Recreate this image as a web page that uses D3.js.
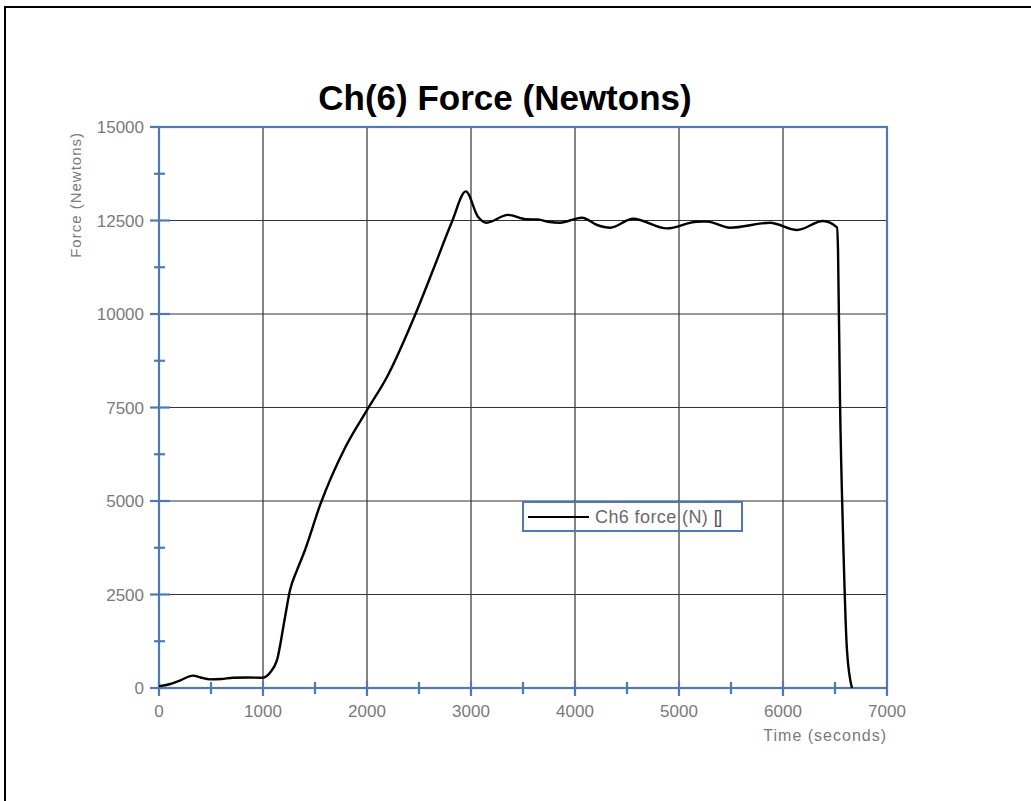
<!DOCTYPE html>
<html>
<head>
<meta charset="utf-8">
<script src="https://cdn.jsdelivr.net/npm/d3@7"></script>
<style>
  html, body { margin: 0; padding: 0; background: #fff; overflow: hidden; }
  svg { display: block; font-family: Arial, "Liberation Sans", sans-serif; }
</style>
</head>
<body>
<script>
// ---- data ----
const timeSeconds = [0, 100, 200, 327, 400, 490, 600, 712, 850, 990, 1067, 1135, 1212, 1260, 1327, 1404, 1550, 1788, 2000, 2192, 2442, 2635, 2817, 2950, 3067, 3150, 3356, 3538, 3635, 3740, 3856, 4067, 4212, 4337, 4558, 4885, 5173, 5270, 5490, 5875, 6135, 6385, 6519, 6529, 6548, 6577, 6615, 6663];
const forceNewtons = [50, 100, 200, 330, 280, 230, 240, 275, 280, 275, 410, 750, 1900, 2620, 3150, 3690, 4900, 6417, 7430, 8315, 9840, 11176, 12468, 13280, 12602, 12440, 12650, 12532, 12530, 12468, 12440, 12575, 12380, 12307, 12545, 12290, 12468, 12470, 12307, 12440, 12245, 12487, 12318, 11711, 7700, 4144, 1016, 0];
const xTicks = [0, 1000, 2000, 3000, 4000, 5000, 6000, 7000];
const xMinorTicks = [500, 1500, 2500, 3500, 4500, 5500, 6500];
const yTicks = [0, 2500, 5000, 7500, 10000, 12500, 15000];
const yMinorTicks = [1250, 3750, 6250, 8750, 11250, 13750];
const titleText = "Ch(6) Force (Newtons)";
const xTitle = "Time (seconds)";
const yTitle = "Force (Newtons)";
const legendLabel = "Ch6 force (N) ";
const legendTail = "[]";

// ---- layout ----
const W = 1031, H = 801;
const L = 159, R = 887, T = 127, B = 688;
const axisBlue = "#4f79b5";
const gridCol = "#333";
const labelCol = "#7a7a7a";

const svg = d3.select("body").append("svg").attr("width", W).attr("height", H);
svg.append("rect").attr("width", W).attr("height", H).attr("fill", "#fff");

// outer frame (only left/top visible in picture)
svg.append("rect").attr("x", 5).attr("y", 7).attr("width", 1200).attr("height", 1000)
  .attr("fill", "none").attr("stroke", "#000").attr("stroke-width", 2);

const x = d3.scaleLinear().domain([0, 7000]).range([L, R]);
const y = d3.scaleLinear().domain([0, 15000]).range([B, T]);

// grid
const grid = svg.append("g");
grid.selectAll(".vg").data(xTicks.slice(1, -1)).join("line")
  .attr("x1", d => x(d)).attr("x2", d => x(d)).attr("y1", T).attr("y2", B)
  .attr("stroke", gridCol).attr("stroke-width", 1.2);
grid.selectAll(".hg").data(yTicks.slice(1, -1)).join("line")
  .attr("x1", L).attr("x2", R).attr("y1", d => y(d)).attr("y2", d => y(d))
  .attr("stroke", gridCol).attr("stroke-width", 1.2);

// frame (blue)
const frame = svg.append("g").attr("stroke", axisBlue).attr("stroke-width", 2.2).attr("fill", "none");
frame.append("rect").attr("x", L).attr("y", T).attr("width", R - L).attr("height", B - T);

// y axis ticks
frame.selectAll(".ymaj").data(yTicks).join("line")
  .attr("x1", L - 9).attr("x2", d => (d === 15000 ? L : L + 11))
  .attr("y1", d => y(d)).attr("y2", d => y(d));
frame.selectAll(".ymin").data(yMinorTicks).join("line")
  .attr("x1", L - 5).attr("x2", L + 6)
  .attr("y1", d => y(d)).attr("y2", d => y(d));
// x axis ticks
frame.selectAll(".xmaj").data(xTicks).join("line")
  .attr("x1", d => x(d)).attr("x2", d => x(d))
  .attr("y1", d => (d === 7000 ? B : B - 7)).attr("y2", B + 8);
frame.selectAll(".xmin").data(xMinorTicks).join("line")
  .attr("x1", d => x(d)).attr("x2", d => x(d))
  .attr("y1", B - 6).attr("y2", B + 6);

// tick labels
svg.append("g").selectAll("text").data(yTicks).join("text")
  .attr("x", L - 15).attr("y", d => y(d)).attr("dy", "0.36em")
  .attr("text-anchor", "end").attr("font-size", 17).attr("fill", labelCol)
  .text(d => d);
svg.append("g").selectAll("text").data(xTicks).join("text")
  .attr("x", d => x(d)).attr("y", B + 29)
  .attr("text-anchor", "middle").attr("font-size", 17).attr("fill", labelCol)
  .text(d => d);

// axis titles
svg.append("text").attr("x", R).attr("y", B + 53).attr("text-anchor", "end")
  .attr("font-size", 16).attr("letter-spacing", 1).attr("fill", labelCol).text(xTitle);
svg.append("text").attr("transform", `translate(81,${T + 5}) rotate(-90)`)
  .attr("text-anchor", "end").attr("font-size", 15).attr("letter-spacing", 1)
  .attr("fill", labelCol).text(yTitle);

// title
svg.append("text").attr("x", 505).attr("y", 110).attr("text-anchor", "middle")
  .attr("font-size", 35).attr("font-weight", "bold").attr("fill", "#000").text(titleText);

// data line
const line = d3.line().x((d, i) => x(timeSeconds[i])).y((d, i) => y(forceNewtons[i]))
  .curve(d3.curveMonotoneX);
svg.append("path").datum(forceNewtons).attr("d", line)
  .attr("fill", "none").attr("stroke", "#000").attr("stroke-width", 2.4)
  .attr("stroke-linejoin", "round");

// legend
const lg = svg.append("g");
lg.append("rect").attr("x", 523).attr("y", 502).attr("width", 219).attr("height", 29)
  .attr("fill", "none").attr("stroke", axisBlue).attr("stroke-width", 2);
lg.append("line").attr("x1", 528).attr("x2", 589).attr("y1", 517).attr("y2", 517)
  .attr("stroke", "#000").attr("stroke-width", 2);
const lt = lg.append("text").attr("x", 595).attr("y", 523).attr("font-size", 18)
  .attr("letter-spacing", 0.4).attr("fill", "#6a6a6a");
lt.append("tspan").text(legendLabel);
lt.append("tspan").attr("letter-spacing", -1.5).attr("fill", "#555").text(legendTail);
</script>
</body>
</html>
